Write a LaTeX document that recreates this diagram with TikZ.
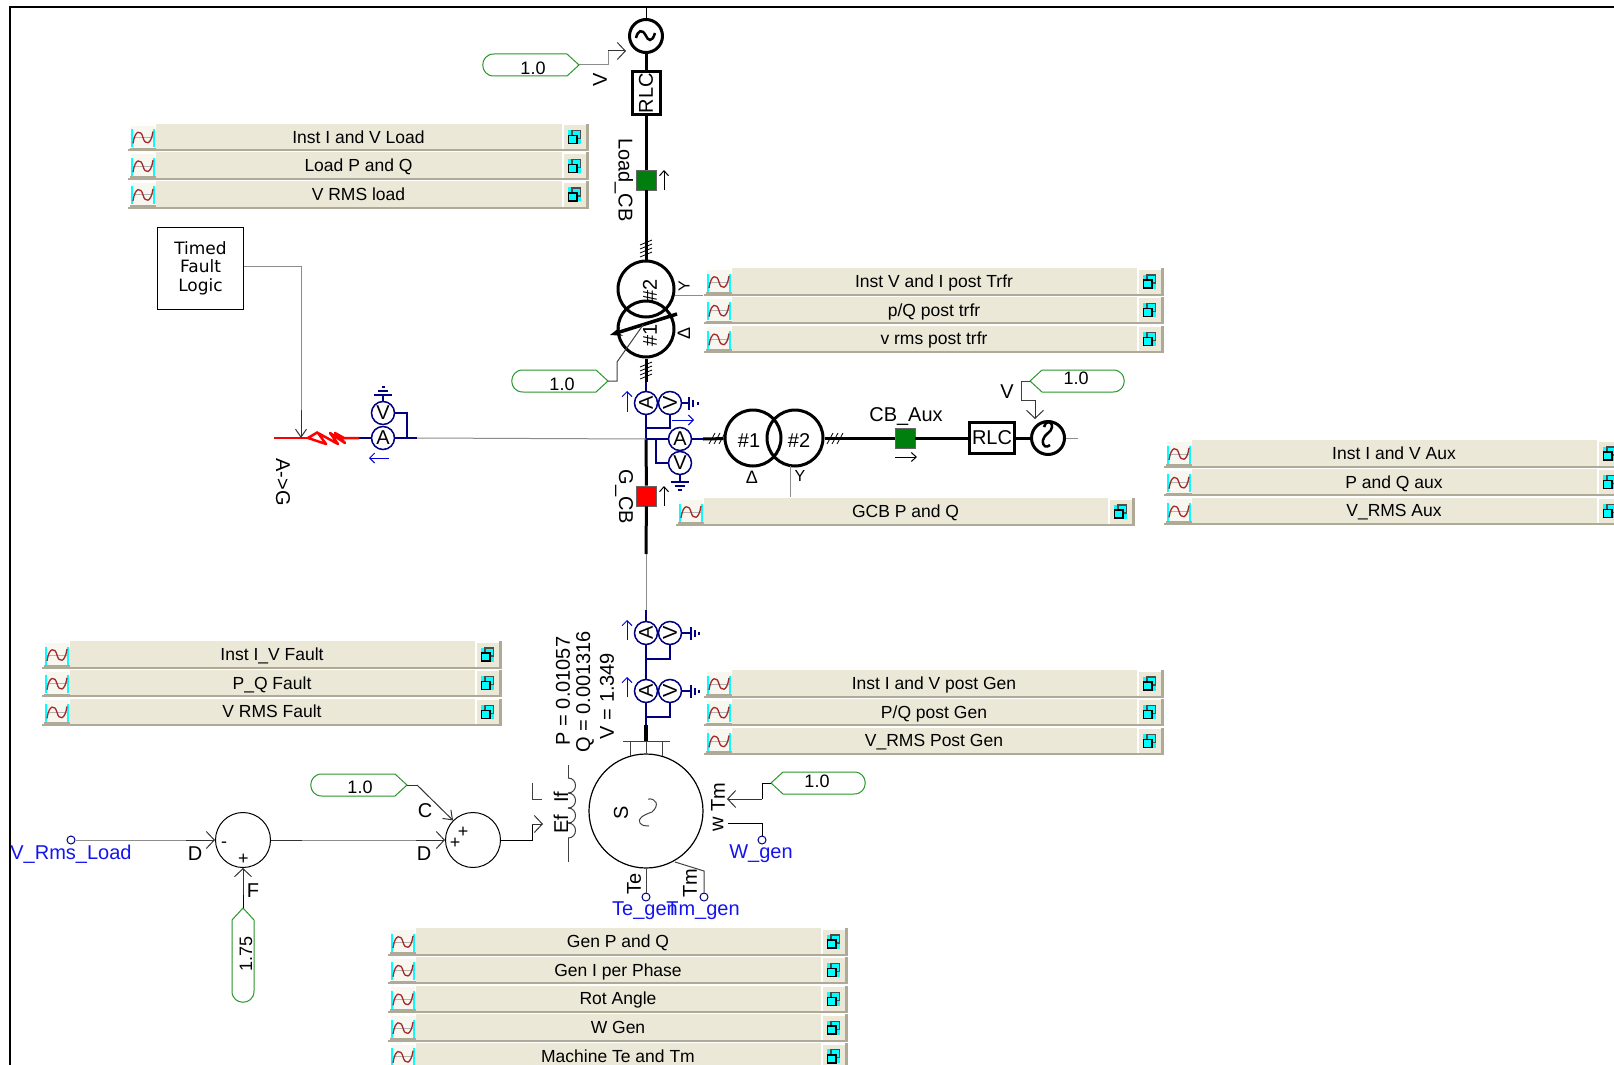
\documentclass[tikz,border=0pt]{standalone}
\usepackage{fontspec}
\setmainfont{Liberation Sans}
\newfontfamily\timedfont{DejaVu Sans}
\usetikzlibrary{arrows.meta}
\definecolor{barbeige}{HTML}{EBE8D8}
\definecolor{barshade}{HTML}{AFA998}
\definecolor{wavered}{HTML}{A5282D}
\definecolor{meterblue}{HTML}{000080}
\definecolor{textblue}{HTML}{1414F0}
\definecolor{constgreen}{HTML}{2A962A}
\definecolor{cbgreen}{HTML}{007F0E}
\definecolor{wiregray}{HTML}{8C8C8C}
\definecolor{iconcyan}{HTML}{00FFFF}
\newcommand{\fsize}[1]{\fontsize{#1}{#1}\selectfont}
\tikzset{
  every node/.style={font=\fsize{20},inner sep=0pt},
  thickline/.style={line width=3pt},
  thinline/.style={line width=1pt,black!75},
  wireline/.style={line width=1pt,wiregray},
  blueline/.style={line width=1.4pt,meterblue},
  sigarrow/.style={line width=1pt,black!80,-{Straight Barb[length=8pt,width=17pt]}},
  smallarrow/.style={line width=1pt,-{Straight Barb[length=5pt,width=9pt]}},
  bluearrow/.style={line width=1pt,blue!85!black,-{Straight Barb[length=5pt,width=10pt]}},
  meter/.style={circle,draw=meterblue,line width=1.5pt,minimum size=23pt},
  xfmr/.style={circle,draw,line width=3pt,minimum size=56pt},
  srcnode/.style={circle,draw,line width=3pt,minimum size=33pt},
  rlcbox/.style={rectangle,draw,line width=3pt},
  breaker/.style={rectangle,draw=black!60,line width=.8pt,minimum size=20pt},
  summer/.style={circle,draw,line width=1pt,minimum size=55pt},
  portdot/.style={circle,draw=meterblue,line width=1pt,minimum size=8pt},
  bluetext/.style={text=textblue},
  consttext/.style={font=\fsize{18}},
  signtext/.style={font=\fsize{18}},
  constsrc/.pic={
    \draw[constgreen,line width=1pt] (0,0) -- (-12,-11) -- (-#1+11,-11)
      .. controls (-#1-4,-11) and (-#1-4,11) .. (-#1+11,11) -- (-12,11) -- cycle;
  }
}
% one row of an output channel bar
\newcommand{\panelrow}[3]{
  \begin{scope}[shift={(#1)}]
    \fill[barshade] (0,0) rectangle (\rowwidth,28.7);
    \fill[white] (0,0) rectangle (\rowwidth,1.2);
    \fill[barbeige] (0,1.2) rectangle (\rowwidth-3,26.6);
    \fill[white] (0,1.2) rectangle (27.5,26.6);
    \fill[barshade] (1.5,25) rectangle (27.5,26.6);
    \fill[barbeige!40] (3,3) rectangle (27,25);
    \fill[iconcyan] (3,6.5) rectangle (5,24.5);
    \fill[iconcyan] (25,6.5) rectangle (27,24.5);
    \draw[black!30,line width=1pt] (5,15) -- (25,15);
    \draw[wavered,line width=1.3pt] (5,21) .. controls (7,7) and (13,7) .. (15,15)
      .. controls (17,23) and (23,23) .. (25,9);
    \fill[white] (\rowwidth-27,1.2) rectangle (\rowwidth-3,26.6);
    \fill[barbeige] (\rowwidth-25.5,2.7) rectangle (\rowwidth-3,26.6);
    \fill[iconcyan] (\rowwidth-21,7.5) rectangle (\rowwidth-8,21.5);
    \draw[black!70,line width=1.2pt] (\rowwidth-17,8) rectangle (\rowwidth-8.5,16);
    \draw[black,line width=1.4pt,fill=iconcyan] (\rowwidth-20.5,13) rectangle (\rowwidth-12,21);
    \node[font=\fsize{17.5},anchor=base] (#2) at (\rowwidth/2,20.5) {#3};
  \end{scope}
}
\newcommand{\panelgroup}[5]{
  \pgfmathsetmacro{\rowwidth}{#3-#2}
  \foreach \rowtext [count=\rowi from 0] in {#5} {
    \pgfmathsetmacro{\rowy}{#4+28.7*\rowi}
    \panelrow{#2,\rowy}{#1\rowi}{\rowtext}
  }
}
\begin{document}
\begin{tikzpicture}[x=1pt,y=-1pt]
  \clip (0,0) rectangle (1614,1065);
  \fill[white] (0,0) rectangle (1614,1065);

  % frame
  \coordinate (frameTop) at (646,7);
  \draw[line width=2pt] (10,1065) -- (10,7) -- (1614,7);

  % output channels
  \panelgroup{rowLoad}{128}{589}{122.5}{Inst I and V Load,Load P and Q,V RMS load}
  \panelgroup{rowTrfr}{704}{1164}{267}{Inst V and I post Trfr,p/Q post trfr,v rms post trfr}
  \panelgroup{rowGcb}{676}{1135}{497}{GCB P and Q}
  \panelgroup{rowAux}{1164}{1624}{439}{Inst I and V Aux,P and Q aux,V\_RMS Aux}
  \panelgroup{rowFault}{42}{502}{640}{Inst I\_V Fault,P\_Q Fault,V RMS Fault}
  \panelgroup{rowPost}{704}{1164}{669}{Inst I and V post Gen,P/Q post Gen,V\_RMS Post Gen}
  \panelgroup{rowGen}{388}{848}{927}{Gen P and Q,Gen I per Phase,Rot Angle,W Gen,Machine Te and Tm}

  % load branch
  \node[srcnode] (srcLoad) at (646,36) {};
  \node[rlcbox,minimum width=28pt,minimum height=42pt] (rlcLoad) at (646,93) {};
  \node[rotate=90] at (646,93) {RLC};
  \node[breaker,fill=cbgreen] (cbLoad) at (646,180) {};
  \node[rotate=-90] (lblLoadCb) at (624,180) {Load\_CB};
  \node[xfmr] (xfmrB) at (646,289) {};
  \node[xfmr] (xfmrA) at (646,329) {};
  \node[rotate=90] (lblXfmrB) at (650,290) {\#2};
  \node[rotate=90] (lblXfmrA) at (650,335) {\#1};
  \node[rotate=90,font=\fsize{16}] (wyeLoad) at (684,286) {Y};
  \node[rotate=90,font=\fsize{18}] (deltaLoad) at (684,333) {Δ};
  \draw[line width=1pt] (srcLoad.north) -- (frameTop);
  \draw[line width=2.5pt] (636,38) .. controls (638,30) and (642,29) .. (645.5,35)
    .. controls (648,41) and (652,43) .. (655,33);
  \draw[thickline] (srcLoad) -- (rlcLoad);
  \draw[thickline] (rlcLoad) -- (cbLoad);
  \draw[thickline] (cbLoad) -- (xfmrB);
  \draw[smallarrow] (664,190) -- (664,170);
  \foreach \ticky in {245,249,253,257} {
    \draw[line width=.8pt] (640,\ticky) -- (652,\ticky-5);
  }
  \foreach \ticky in {367,371,375,379} {
    \draw[line width=.8pt] (640,\ticky) -- (652,\ticky-5);
  }
  \draw[line width=3.5pt,-{Stealth[length=12pt,width=9pt]}] (677,314) -- (610,335);
  \coordinate (trfrPanel) at (703,295);
  \draw[wireline] (675,295) -- (trfrPanel);

  % constants
  \coordinate (tipLoad) at (579,65);
  \pic at (tipLoad) {constsrc=96};
  \node[consttext] (cLoad) at (533,68) {1.0};
  \draw[wireline] (tipLoad) -- (608,65) -- (608,51);
  \draw[sigarrow] (608,51) -- (626,51);
  \node[rotate=90] (lblVLoad) at (600,80) {V};
  \coordinate (tipTap) at (608,381);
  \pic at (tipTap) {constsrc=96};
  \node[consttext] (cTap) at (562,384) {1.0};
  \draw[thinline] (tipTap) -- (617,381) -- (617,362) -- (643,325);
  \coordinate (tipAux) at (1030,381);
  \pic[rotate=180] at (tipAux) {constsrc=94};
  \node[consttext] (cAux) at (1076,378) {1.0};
  \draw[thinline] (tipAux) -- (1021,381) -- (1021,400) -- (1035,400);
  \draw[sigarrow] (1035,400) -- (1035,419);
  \node (lblVAux) at (1007,392) {V};
  \coordinate (tipTm) at (771,783);
  \pic[rotate=180] at (tipTm) {constsrc=94};
  \node[consttext] (cTm) at (817,781) {1.0};
  \coordinate (tipC) at (407,785);
  \pic at (tipC) {constsrc=96};
  \node[consttext] (cC) at (360,787) {1.0};
  \coordinate (tipF) at (243,908);
  \pic[rotate=90] at (tipF) {constsrc=94};
  \node[consttext,rotate=90] (cF) at (246,954) {1.75};

  % bus meters
  \coordinate (busNode) at (646,439);
  \node[meter] (aBus) at (646,403) {};
  \node[rotate=90] at (646,403) {A};
  \node[meter] (vBus) at (670,403) {};
  \node[rotate=90] at (670,403) {V};
  \node[meter] (aAux) at (680,439) {A};
  \node[meter] (vAux) at (680,463) {V};
  \draw[thickline] (xfmrA) -- (646,382);
  \draw[blueline] (646,382) -- (aBus);
  \draw[blueline] (aBus) -- (busNode);
  \draw[blueline] (vBus.south) |- (646,428);
  \draw[blueline] (busNode) -- (aAux);
  \draw[blueline] (vAux.west) -| (656,439);
  \draw[blueline] (vBus.east) -- (689,403);
  \draw[blueline] (689,397) -- (689,410) (693,400) -- (693,407) (698,402) -- (698,405);
  \draw[blueline] (vAux.south) -- (680,482);
  \draw[blueline] (671,482) -- (689,482) (675,486) -- (685,486) (678,490) -- (682,490);
  \draw[bluearrow] (627,412) -- (627,391);
  \draw[bluearrow] (672,420) -- (694,420);

  % aux branch
  \node[xfmr] (xfmrC) at (753,438) {};
  \node[xfmr] (xfmrD) at (795,438) {};
  \node (lblXfmrC) at (749,441) {\#1};
  \node (lblXfmrD) at (799,441) {\#2};
  \node[breaker,fill=cbgreen] (cbAux) at (905,438) {};
  \node (lblCbAux) at (906,417) {CB\_Aux};
  \node[rlcbox,minimum width=45pt,minimum height=31pt] (rlcAux) at (992,438) {RLC};
  \node[srcnode] (srcAux) at (1048,438) {};
  \node[font=\fsize{18}] (deltaAux) at (752,477) {Δ};
  \node[font=\fsize{16}] (wyeAux) at (800,476) {Y};
  \draw[blueline] (aAux.east) -- (703,439);
  \draw[thickline] (703,439) -- (xfmrC);
  \draw[thickline] (xfmrD) -- (cbAux);
  \draw[thickline] (cbAux) -- (rlcAux);
  \draw[thickline] (rlcAux) -- (srcAux);
  \draw[wireline] (srcAux) -- (1078,438);
  \draw[line width=2.5pt] (1044,427) .. controls (1045,421) and (1052,420) .. (1052,427)
    .. controls (1052,432) and (1044,434) .. (1043,440) .. controls (1042,447) and (1047,448) .. (1050,445);
  \draw[wireline] (790,466) -- (790,497);
  \draw[smallarrow] (895,457) -- (917,457);
  \foreach \tickx in {709,714,719} {
    \draw[line width=.8pt] (\tickx,444) -- (\tickx+6,433);
  }
  \foreach \tickx in {827,832,837} {
    \draw[line width=.8pt] (\tickx,444) -- (\tickx+6,433);
  }

  % grid breaker
  \coordinate (gridEnd) at (646,554);
  \node[breaker,fill=red] (cbGrid) at (646.5,496) {};
  \node[rotate=-90] (lblGridCb) at (624,497) {G\_CB};
  \draw[thickline] (busNode) -- (cbGrid);
  \draw[thickline] (cbGrid) -- (gridEnd);
  \draw[smallarrow] (664,506) -- (664,486);

  % fault branch
  \node[rectangle,draw,line width=1pt,minimum width=86pt,minimum height=82pt,align=center,
    font=\timedfont\fsize{17}] (faultLogic) at (200.5,268) {Timed\\[1.5pt]Fault\\[1.5pt]Logic};
  \node[meter] (aFault) at (383,438) {A};
  \node[meter] (vFault) at (383,413) {V};
  \node[rotate=-90] (lblFault) at (283,482) {A->G};
  \coordinate (faultNode) at (301,438);
  \draw[wireline] (busNode) -- (417,438);
  \draw[blueline] (417,438) -- (aFault);
  \draw[blueline] (vFault.east) -| (407,438);
  \draw[blueline] (aFault.west) -- (359,438);
  \draw[blueline] (vFault.north) -- (383,395);
  \draw[blueline] (374,395) -- (392,395) (378,391) -- (388,391) (382,387) -- (385,387);
  \draw[red,line width=1.2pt] (274,438) -- (308,438);
  \draw[red,line width=2.5pt,line join=round] (359,438) -- (344,438) -- (335,433) -- (345,443)
    -- (330,433) -- (338,444) -- (318,433) -- (326,444) -- (308,438) -- (318,432);
  \draw[wireline] (faultLogic.east |- 0,266) -- (301,266) -- (301,410);
  \draw[line width=1pt,black!80,-{Straight Barb[length=8pt,width=11pt]}] (301,410) -- (faultNode);
  \draw[bluearrow] (389,458) -- (369,458);

  % generator meters
  \node[meter] (aGenTop) at (646,633) {};
  \node[rotate=90] at (646,633) {A};
  \node[meter] (vGenTop) at (670,633) {};
  \node[rotate=90] at (670,633) {V};
  \node[meter] (aGenLow) at (646,691) {};
  \node[rotate=90] at (646,691) {A};
  \node[meter] (vGenLow) at (670,691) {};
  \node[rotate=90] at (670,691) {V};
  \draw[wireline] (gridEnd) -- (646,610);
  \draw[blueline] (646,610) -- (aGenTop);
  \draw[blueline] (aGenTop) -- (aGenLow);
  \draw[blueline] (aGenLow) -- (646,725);
  \draw[blueline] (vGenTop.south) |- (646,659);
  \draw[blueline] (vGenLow.south) |- (646,717);
  \foreach \gname/\gy in {vGenTop/633,vGenLow/691} {
    \draw[blueline] (\gname.east) -- (691,\gy);
    \draw[blueline] (691,\gy-6) -- (691,\gy+7) (695,\gy-3) -- (695,\gy+4) (699,\gy-1) -- (699,\gy+2);
  }
  \draw[bluearrow] (627,640) -- (627,620);
  \draw[bluearrow] (627,697) -- (627,677);
  \node[rotate=90] (lblP) at (563,691) {P = 0.01057};
  \node[rotate=90] (lblQ) at (585,692) {Q = 0.001316};
  \node[rotate=90] (lblV) at (607,696) {V = 1.349};

  % machine
  \node[circle,draw,line width=1.2pt,minimum size=114pt] (genS) at (646,811) {};
  \node[rotate=90] (lblS) at (621,813) {S};
  \node[rotate=90] (lblIf) at (561,797) {If};
  \node[rotate=90] (lblEf) at (561,824) {Ef};
  \node[rotate=90] (lblTmIn) at (718,797) {Tm};
  \node[rotate=90] (lblW) at (718,824) {w};
  \node[rotate=90] (lblTe) at (634,884) {Te};
  \node[rotate=90] (lblTm) at (690,883) {Tm};
  \draw[line width=4pt] (646,725) -- (646,741);
  \draw[thinline] (623,741) -- (670,741);
  \draw[thinline] (630,741) -- (630,756) (646,741) -- (genS.north) (662,741) -- (662,756);
  \draw[thinline] (648,799) .. controls (656,798) and (660,805) .. (652,812)
    .. controls (643,815) and (637,819) .. (640,823) .. controls (642,826) and (646,826) .. (649,826);
  \draw[thinline] (568,765) -- (568,778);
  \foreach \coily in {778,793,808,823} {
    \draw[thinline] (568,\coily) .. controls (578,\coily) and (578,\coily+15) .. (568,\coily+15);
  }
  \draw[thinline] (568,838) -- (568,862);
  \draw[thinline] (532,783) -- (532,799) -- (542,799);
  \draw[line width=1pt,black] (tipTm) -- (762,783) -- (762,799);
  \draw[sigarrow] (762,799) -- (727,799);
  \node[portdot] (portW) at (762,840) {};
  \node[bluetext] (lblWGen) at (761,854) {W\_gen};
  \draw[line width=1pt] (728,823) -- (762,823) -- (portW);
  \node[portdot] (portTe) at (646,897) {};
  \node[bluetext] (lblTeGen) at (645,911) {Te\_gen};
  \node[portdot] (portTm) at (704,897) {};
  \node[bluetext] (lblTmGen) at (703,911) {Tm\_gen};
  \draw[thinline] (genS.south) -- (portTe);
  \draw[thinline] (675,862) -- (704,871) -- (portTm);

  % control summers
  \node[portdot] (portLoad) at (71,840) {};
  \node[bluetext] (lblLoad) at (71,854) {V\_Rms\_Load};
  \node[summer] (sumA) at (243,840) {};
  \node[summer] (sumB) at (473,840) {};
  \node[signtext] (minusA) at (224,845) {-};
  \node[signtext] (plusA) at (243.5,859) {+};
  \node[signtext] (plusB) at (463,832) {+};
  \node[signtext] (plusC) at (455,843) {+};
  \node (lblD) at (195,854) {D};
  \node (lblDb) at (424,854) {D};
  \node (lblF) at (253,891) {F};
  \node (lblC) at (425,811) {C};
  \draw[wireline] (portLoad) -- (186,840);
  \draw[sigarrow] (186,840) -- (sumA);
  \draw[line width=1pt,black!80] (sumA) -- (302,840);
  \draw[wireline] (302,840) -- (416,840);
  \draw[sigarrow] (416,840) -- (sumB);
  \draw[line width=1pt] (tipF) -- (243,895);
  \draw[sigarrow] (243,895) -- (sumA);
  \draw[line width=1pt,black!80] (tipC) -- (417,785);
  \draw[sigarrow,-{Straight Barb[length=8pt,width=12pt]}] (417,785) -- (sumB);
  \draw[line width=1pt] (sumB) -- (532,840) -- (532,824);
  \draw[sigarrow] (532,824) -- (543,824);
\end{tikzpicture}
\end{document}
